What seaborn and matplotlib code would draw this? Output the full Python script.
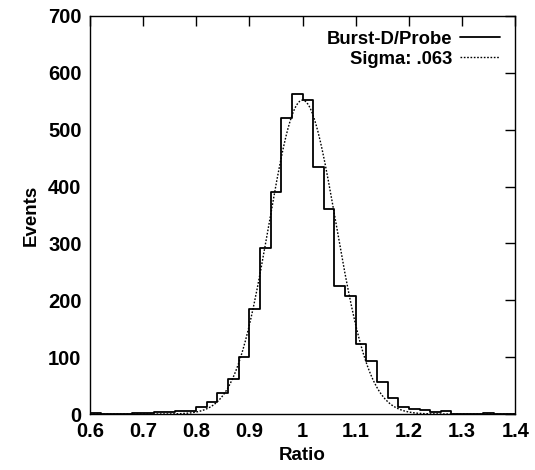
import numpy as np
import pandas as pd
import matplotlib
matplotlib.use("Agg")
import matplotlib.pyplot as plt
import seaborn as sns

# Histogram: bins of width 0.02 starting at 0.60
bin_left = [round(0.60 + 0.02 * i, 2) for i in range(40)]
counts = [2, 1, 0, 1, 2, 2, 3, 4, 5, 6,
          12, 21, 37, 61, 100, 185, 292, 391, 521, 563,
          553, 435, 361, 226, 207, 124, 93, 57, 29, 13,
          9, 7, 3, 5, 1, 0, 0, 2, 0, 0]
bin_width = 0.02

# Gaussian fit parameters
fit_mean = 1.0
fit_sigma = 0.063
fit_amp = 552

xticks = [0.6, 0.7, 0.8, 0.9, 1.0, 1.1, 1.2, 1.3, 1.4]
xtick_labels = ["0.6", "0.7", "0.8", "0.9", "1", "1.1", "1.2", "1.3", "1.4"]
yticks = [0, 100, 200, 300, 400, 500, 600, 700]

sns.set_theme(style="white")
plt.rcParams['font.family'] = ['Liberation Sans', 'DejaVu Sans']
plt.rcParams['font.weight'] = 'bold'

fig = plt.figure(figsize=(5.35, 4.7), dpi=100)
ax = fig.add_axes([0.168, 0.119, 0.795, 0.847])

df = pd.DataFrame({"x": [b + bin_width / 2 for b in bin_left], "w": counts})
edges = [round(0.60 + 0.02 * i, 2) for i in range(41)]
sns.histplot(data=df, x="x", weights="w", bins=edges, element="step", fill=False,
             color="black", linewidth=1.3, ax=ax, label="Burst-D/Probe")

xs = np.linspace(0.6, 1.4, 600)
fit_df = pd.DataFrame({"x": xs, "y": fit_amp * np.exp(-(xs - fit_mean) ** 2 / (2 * fit_sigma ** 2))})
sns.lineplot(data=fit_df, x="x", y="y", color="black", linestyle=(0, (1.2, 1.2)),
             linewidth=1.0, ax=ax, label="Sigma: .063")

ax.set_xlim(0.6, 1.4)
ax.set_ylim(0, 700)
ax.set_xticks(xticks)
ax.set_xticklabels(xtick_labels)
ax.set_yticks(yticks)
ax.tick_params(axis="both", which="major", direction="in", length=7, width=1,
               top=True, right=True, labelsize=14.5, colors="black")
ax.tick_params(axis="y", pad=6)
ax.tick_params(axis="x", pad=6)
for lab in ax.get_xticklabels() + ax.get_yticklabels():
    lab.set_fontweight("bold")
ax.set_xlabel("Ratio", fontsize=13.5, fontweight="bold", labelpad=4, color="black")
ax.set_ylabel("Events", fontsize=13.5, fontweight="bold", labelpad=6, color="black")
for s in ax.spines.values():
    s.set_color("black")
    s.set_linewidth(1.0)

leg = ax.legend(loc="upper right", frameon=False, markerfirst=False,
                prop={"weight": "bold", "size": 13.3}, handlelength=2.2,
                handletextpad=0.4, borderaxespad=0.5, borderpad=0.3,
                labelspacing=0.15)
for t in leg.get_texts():
    t.set_ha("right")
    t.set_color("black")

fig.savefig("out.png", dpi=100)
